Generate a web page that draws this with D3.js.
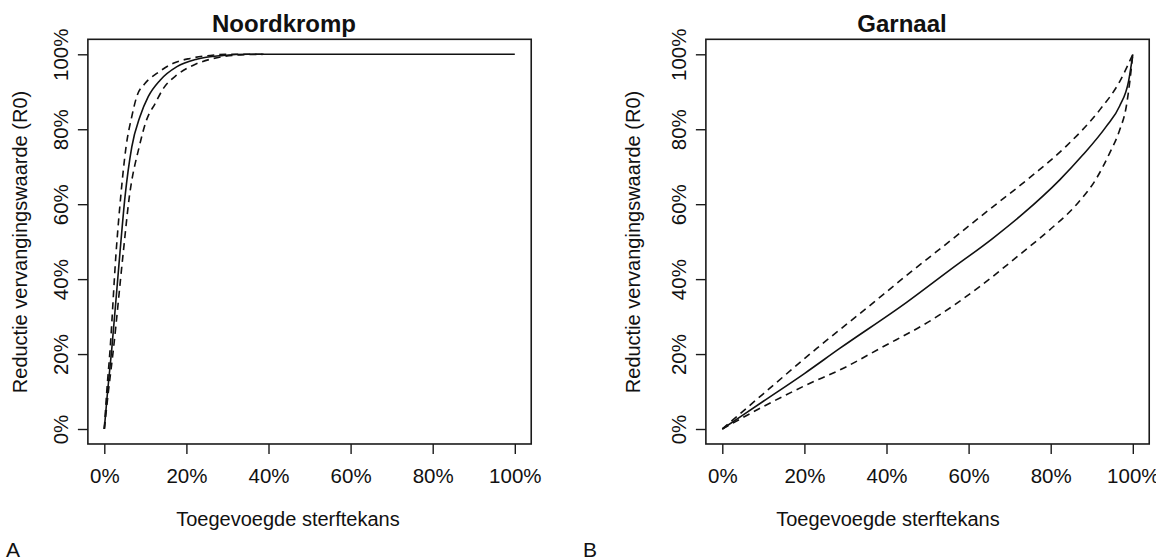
<!DOCTYPE html>
<html><head><meta charset="utf-8">
<script src="https://cdn.jsdelivr.net/npm/d3@7"></script>
<style>body{margin:0;background:#fff}svg{display:block}text{font-family:"Liberation Sans",Arial,sans-serif;fill:#111}</style>
</head><body><svg id="c" width="1156" height="560"></svg>
<script>
// ---- data ----
const tickValues = [0, 0.2, 0.4, 0.6, 0.8, 1.0];
const tickLabels = ["0%", "20%", "40%", "60%", "80%", "100%"];
const titles = ["Noordkromp", "Garnaal"];
const panelLetters = ["A", "B"];
const xLabel = "Toegevoegde sterftekans";
const yLabel = "Reductie vervangingswaarde (R0)";

// Noordkromp
const nkMid = [[0,0],[0.008,0.1],[0.018,0.211],[0.038,0.469],[0.0505,0.62],[0.067,0.753],[0.087,0.834],[0.107,0.887],[0.136,0.931],[0.177,0.967],[0.225,0.987],[0.29,0.997],[0.35,1.0],[0.6,1.0],[1.0,1.0]];
const nkUpper = [[0,0],[0.006,0.1],[0.014,0.211],[0.0286,0.469],[0.040,0.62],[0.053,0.753],[0.067,0.834],[0.079,0.887],[0.099,0.922],[0.128,0.949],[0.168,0.976],[0.209,0.989],[0.258,0.997],[0.307,1.0],[0.39,1.0]];
const nkLower = [[0,0],[0.01,0.1],[0.022,0.211],[0.046,0.469],[0.061,0.62],[0.085,0.753],[0.103,0.825],[0.124,0.869],[0.144,0.909],[0.177,0.945],[0.217,0.971],[0.266,0.989],[0.323,0.998],[0.388,1.0]];

// Garnaal
const gaMid = [[0,0],[0.1,0.074],[0.2,0.148],[0.286,0.215],[0.449,0.338],[0.554,0.424],[0.659,0.509],[0.732,0.574],[0.822,0.665],[0.878,0.731],[0.935,0.807],[0.968,0.862],[0.99,0.93],[1.0,1.0]];
const gaUpper = [[0,0],[0.1,0.094],[0.23,0.215],[0.351,0.322],[0.449,0.41],[0.562,0.508],[0.659,0.593],[0.757,0.678],[0.838,0.755],[0.919,0.851],[0.968,0.927],[1.0,1.0]];
const gaLower = [[0,0],[0.1,0.06],[0.2,0.115],[0.3,0.165],[0.384,0.215],[0.513,0.293],[0.627,0.380],[0.724,0.465],[0.797,0.531],[0.862,0.598],[0.911,0.668],[0.943,0.735],[0.968,0.798],[0.984,0.86],[0.993,0.93],[1.0,1.0]];

const panels = [
  {x0:104.3, title:titles[0], letter:panelLetters[0], mid:nkMid, upper:nkUpper, lower:nkLower, titleX:284, xLabX:288, yLabX:27, letterX:6},
  {x0:722.3, title:titles[1], letter:panelLetters[1], mid:gaMid, upper:gaUpper, lower:gaLower, titleX:902, xLabX:888, yLabX:640, letterX:583}
];

const svg = d3.select("#c");
const unitX = 410.5, y0 = 429, y1 = 54.3;

panels.forEach(p => {
  const x = d3.scaleLinear().domain([0,1]).range([p.x0, p.x0 + unitX]);
  const y = d3.scaleLinear().domain([0,1]).range([y0, y1]);
  const bx0 = x(-0.04), bx1 = x(1.04), by0 = y(-0.04), by1 = y(1.04);
  const g = svg.append("g");

  g.append("rect").attr("x",bx0).attr("y",by1).attr("width",bx1-bx0).attr("height",by0-by1)
    .attr("fill","none").attr("stroke","#1a1a1a").attr("stroke-width",1.6);

  // x axis
  const xa = g.append("g").attr("transform",`translate(0,${by0})`)
    .call(d3.axisBottom(x).tickValues(tickValues).tickFormat((d,i)=>tickLabels[i]).tickSize(10).tickPadding(14));
  xa.select(".domain").attr("stroke-opacity",0);
  xa.selectAll(".tick line").attr("stroke","#1a1a1a").attr("stroke-width",1.4);
  xa.selectAll(".tick text").attr("font-size","20.5px").attr("fill","#111").attr("font-family","Liberation Sans, Arial, sans-serif");

  // y axis
  const ya = g.append("g").attr("transform",`translate(${bx0},0)`)
    .call(d3.axisLeft(y).tickValues(tickValues).tickFormat((d,i)=>tickLabels[i]).tickSize(10));
  ya.select(".domain").attr("stroke-opacity",0);
  ya.selectAll(".tick line").attr("stroke","#1a1a1a").attr("stroke-width",1.4);
  ya.selectAll(".tick text").attr("font-size","20.5px").attr("fill","#111")
    .attr("font-family","Liberation Sans, Arial, sans-serif")
    .attr("text-anchor","middle").attr("dy",null).attr("x",null)
    .attr("transform","translate(-20,0) rotate(-90)");

  const line = d3.line().x(d=>x(d[0])).y(d=>y(d[1])).curve(d3.curveMonotoneX);
  g.append("path").datum(p.mid).attr("d",line).attr("fill","none").attr("stroke","#111").attr("stroke-width",1.6);
  [p.upper,p.lower].forEach(s=>{
    g.append("path").datum(s).attr("d",line).attr("fill","none").attr("stroke","#111")
      .attr("stroke-width",1.6).attr("stroke-dasharray","7,5");
  });

  g.append("text").attr("x",p.titleX).attr("y",32).attr("text-anchor","middle")
    .attr("font-size","24px").attr("font-weight","bold").text(p.title);
  g.append("text").attr("x",p.xLabX).attr("y",526).attr("text-anchor","middle")
    .attr("font-size","20px").text(xLabel);
  g.append("text").attr("transform",`translate(${p.yLabX},242) rotate(-90)`).attr("text-anchor","middle")
    .attr("font-size","20px").text(yLabel);
  g.append("text").attr("x",p.letterX).attr("y",557).attr("font-size","21px").text(p.letter);
});
</script></body></html>
